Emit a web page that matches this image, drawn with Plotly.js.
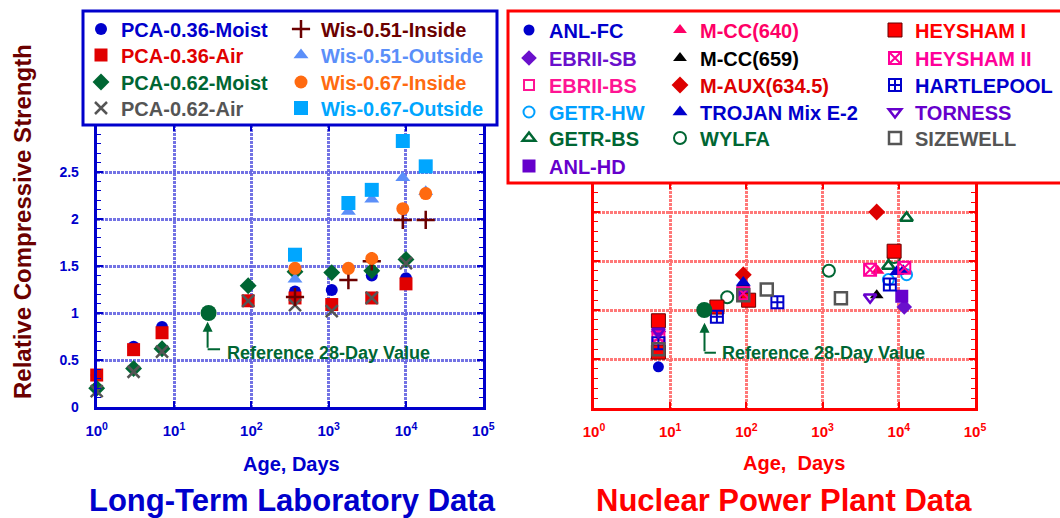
<!DOCTYPE html>
<html>
<head>
<meta charset="utf-8">
<script src="https://cdn.plot.ly/plotly-3.0.1.min.js"></script>
<style>html,body{margin:0;padding:0;background:#fff;}#chart{width:1060px;height:518px;}</style>
</head>
<body>
<div id="chart"></div>
<script>
// ---------------- DATA: Long-Term Laboratory Data ----------------
const pcaAges = [1, 3, 7, 91, 367, 1096, 3610, 10000];
const pca036Moist = [0.34, 0.64, 0.85, 1.13, 1.23, 1.245, 1.40, 1.37];
const pca036Air   = [0.34, 0.61, 0.79, 1.13, 1.16, 1.09, 1.16, 1.31];
const pca062Moist = [0.20, 0.41, 0.62, 1.29, 1.44, 1.43, 1.45, 1.57];
const pca062Air   = [0.17, 0.375, 0.59, 1.13, 1.085, 1.02, 1.16, 1.53];
const wisAges = [367, 1800, 3610, 9100, 18000];
const wis051Inside  = [1.17, 1.35, 1.55, 1.99, 1.99];
const wis051Outside = [1.36, 2.08, 2.21, 2.44, 2.29];
const wis067Inside  = [1.475, 1.475, 1.58, 2.11, 2.27];
const wis067Outside = [1.62, 2.17, 2.31, 2.83, 2.56];
const refAge = [28];
const refValue = [1.0];

// ---------------- DATA: Nuclear Power Plant Data ----------------
const anlFcAge = [7];                      const anlFcVal = [0.42];
const ebrSbAge = [7, 11800];               const ebrSbVal = [0.78, 1.03];
const ebrBsAge = [7, 91];                  const ebrBsVal = [0.64, 1.16];
const getrHwAge = [91, 7300, 12650];       const getrHwVal = [1.23, 1.31, 1.36];
const getrBsAge = [7300, 12650];           const getrBsVal = [1.45, 1.94];
const anlHdAge = [7, 91, 10940];           const anlHdVal = [0.82, 1.17, 1.14];
const mcc640Age = [5280];                  const mcc640Val = [1.40];
const mcc659Age = [91, 5130];              const mcc659Val = [1.27, 1.15];
const mauxAge = [91, 5130];                const mauxVal = [1.36, 2.0];
const trojanAge = [91, 9370, 11440];       const trojanVal = [1.28, 1.39, 1.40];
const wylfaAge = [56, 1210, 8680];         const wylfaVal = [1.13, 1.40, 1.54];
const hey1Age = [7, 7, 41, 107, 8680];     const hey1Val = [0.57, 0.89, 1.03, 1.10, 1.60];
const hey2Age = [7, 91, 4200, 11800];      const hey2Val = [0.72, 1.17, 1.41, 1.43];
const hartAge = [7, 41, 255, 7630];        const hartVal = [0.66, 0.93, 1.08, 1.26];
const tornAge = [7, 4200];                 const tornVal = [0.78, 1.13];
const sizeAge = [7, 91, 185, 1740];        const sizeVal = [0.60, 1.15, 1.21, 1.12];

const decadeTicks = [1, 10, 100, 1000, 10000, 100000];
const decadeLabels = ['10<sup>0</sup>', '10<sup>1</sup>', '10<sup>2</sup>', '10<sup>3</sup>', '10<sup>4</sup>', '10<sup>5</sup>'];
const leftYTicks = [0, 0.5, 1, 1.5, 2, 2.5];
const leftYLabels = ['0', '0.5', '1', '1.5', '2', '2.5'];

// ---------------- STYLE ----------------
const FONT = 'Liberation Sans, Arial, Helvetica, sans-serif';
const W = 1060, H = 518;
const px = v => v / W;
const py = v => 1 - v / H;

const traces = [];
const legends = {};
let legendCount = 0;
function addLegend(color, mx, my) {
  legendCount++;
  const id = legendCount === 1 ? 'legend' : 'legend' + legendCount;
  legends[id] = {
    x: px(mx - 20), y: py(my), xanchor: 'left', yanchor: 'middle',
    bgcolor: 'rgba(0,0,0,0)', borderwidth: 0,
    font: {family: FONT, size: 20, color: color, weight: 700},
    itemclick: false, itemdoubleclick: false
  };
  return id;
}
function series(name, x, y, xa, ya, marker, color, mx, my) {
  traces.push({
    type: 'scatter', mode: 'markers', name: name, x: x, y: y,
    xaxis: xa, yaxis: ya, marker: marker, cliponaxis: false,
    showlegend: true, legend: addLegend(color, mx, my), hoverinfo: 'skip'
  });
}

// Left plot series
series('PCA-0.36-Moist', pcaAges, pca036Moist, 'x', 'y', {symbol: 'circle', size: 12, color: '#0000cc'}, '#0000cc', 101, 29);
series('PCA-0.36-Air', pcaAges, pca036Air, 'x', 'y', {symbol: 'square', size: 13, color: '#e00000'}, '#e00000', 101, 55);
series('PCA-0.62-Moist', pcaAges, pca062Moist, 'x', 'y', {symbol: 'diamond', size: 13, color: '#006633'}, '#006633', 101, 82);
series('PCA-0.62-Air', pcaAges, pca062Air, 'x', 'y', {symbol: 'x-thin', size: 12, color: '#555555', line: {color: '#555555', width: 2.5}}, '#555555', 101, 108);
series('Wis-0.51-Inside', wisAges, wis051Inside, 'x', 'y', {symbol: 'cross-thin', size: 13, color: '#6b0000', line: {color: '#6b0000', width: 2.5}}, '#6b0000', 301, 29);
series('Wis-0.51-Outside', wisAges, wis051Outside, 'x', 'y', {symbol: 'triangle-up', size: 13, color: '#5b8ff9'}, '#5b8ff9', 301, 55);
series('Wis-0.67-Inside', wisAges, wis067Inside, 'x', 'y', {symbol: 'circle', size: 13, color: '#ff6a10'}, '#ff6a10', 301, 82);
series('Wis-0.67-Outside', wisAges, wis067Outside, 'x', 'y', {symbol: 'square', size: 14, color: '#00a6ff'}, '#00a6ff', 301, 108);

// Right plot series
series('ANL-FC', anlFcAge, anlFcVal, 'x2', 'y2', {symbol: 'circle', size: 11, color: '#0000cc'}, '#0000cc', 529, 30);
series('EBRII-SB', ebrSbAge, ebrSbVal, 'x2', 'y2', {symbol: 'diamond', size: 12, color: '#6a10cc'}, '#6a10cc', 529, 58);
series('EBRII-BS', ebrBsAge, ebrBsVal, 'x2', 'y2', {symbol: 'square-open', size: 10, color: '#ff1493', line: {width: 2}}, '#ff1493', 529, 85);
series('GETR-HW', getrHwAge, getrHwVal, 'x2', 'y2', {symbol: 'circle-open', size: 11, color: '#00a0ff', line: {width: 2}}, '#00a0ff', 529, 112);
series('GETR-BS', getrBsAge, getrBsVal, 'x2', 'y2', {symbol: 'triangle-up-open', size: 11, color: '#006633', line: {width: 2.5}}, '#006633', 529, 138);
series('ANL-HD', anlHdAge, anlHdVal, 'x2', 'y2', {symbol: 'square', size: 13, color: '#6600cc'}, '#6600cc', 529, 166);
series('M-CC(640)', mcc640Age, mcc640Val, 'x2', 'y2', {symbol: 'triangle-up', size: 12, color: '#ff0066'}, '#ff0066', 680, 30);
series('M-CC(659)', mcc659Age, mcc659Val, 'x2', 'y2', {symbol: 'triangle-up', size: 12, color: '#000000'}, '#000000', 680, 58);
series('M-AUX(634.5)', mauxAge, mauxVal, 'x2', 'y2', {symbol: 'diamond', size: 13, color: '#dd0000'}, '#dd0000', 680, 85);
series('TROJAN Mix E-2', trojanAge, trojanVal, 'x2', 'y2', {symbol: 'triangle-up', size: 13, color: '#0000cc'}, '#0000cc', 680, 112);
series('WYLFA', wylfaAge, wylfaVal, 'x2', 'y2', {symbol: 'circle-open', size: 12, color: '#006633', line: {width: 2}}, '#006633', 680, 138);
series('HEYSHAM I', hey1Age, hey1Val, 'x2', 'y2', {symbol: 'square', size: 14, color: '#ff0000', line: {color: '#660000', width: 1}}, '#ff0000', 895, 30);
series('HEYSHAM II', hey2Age, hey2Val, 'x2', 'y2', {symbol: 'square-x-open', size: 12, color: '#ff0099', line: {width: 2}}, '#ff0099', 895, 58);
series('HARTLEPOOL', hartAge, hartVal, 'x2', 'y2', {symbol: 'square-cross-open', size: 12, color: '#0000cc', line: {width: 2}}, '#0000cc', 895, 85);
series('TORNESS', tornAge, tornVal, 'x2', 'y2', {symbol: 'triangle-down-open', size: 11, color: '#6600cc', line: {width: 2.5}}, '#6600cc', 895, 112);
series('SIZEWELL', sizeAge, sizeVal, 'x2', 'y2', {symbol: 'square-open', size: 12, color: '#555555', line: {width: 2.5}}, '#555555', 895, 138);

// Reference 28-day points
traces.push({type: 'scatter', mode: 'markers', x: refAge, y: refValue, xaxis: 'x', yaxis: 'y', showlegend: false,
  marker: {symbol: 'circle', size: 16, color: '#006633'}, hoverinfo: 'skip'});
traces.push({type: 'scatter', mode: 'markers', x: refAge, y: refValue, xaxis: 'x2', yaxis: 'y2', showlegend: false,
  marker: {symbol: 'circle', size: 16, color: '#006633'}, hoverinfo: 'skip'});

function xAxis(domain, color, gridc, anchor) {
  return {
    type: 'log', domain: domain, range: [0, 5], anchor: anchor,
    tickmode: 'array', tickvals: decadeTicks, ticktext: decadeLabels,
    ticks: 'inside', ticklen: 6, tickwidth: 2, tickcolor: color,
    showline: true, linecolor: color, linewidth: 3, mirror: 'ticks',
    showgrid: true, gridcolor: gridc, gridwidth: 3, griddash: '3px,1px',
    zeroline: false, ticklabelstandoff: 8,
    tickfont: {family: FONT, size: 15, color: color, weight: 700}
  };
}
function yAxis(domain, range, color, gridc, anchor, labels) {
  return {
    domain: domain, range: range, anchor: anchor,
    tickmode: 'array', tickvals: leftYTicks, ticktext: leftYLabels,
    showticklabels: labels,
    ticks: 'inside', ticklen: 6, tickwidth: 2, tickcolor: color,
    minor: {tickmode: 'linear', tick0: 0, dtick: 0.1, ticks: 'inside', ticklen: 4, tickwidth: 1, tickcolor: color, showgrid: false},
    showline: true, linecolor: color, linewidth: 3, mirror: 'ticks',
    showgrid: true, gridcolor: gridc, gridwidth: 3, griddash: '3px,1px',
    zeroline: false, ticklabelstandoff: 12,
    tickfont: {family: FONT, size: 14, color: color, weight: 700}
  };
}

const L = Math.log10;
const green = '#006633';
const leftArrowX = 27.2;   // arrow position just left of the 28-day point
const rightArrowX = 28.2;
const layout = Object.assign({
  width: W, height: H, autosize: false,
  margin: {l: 0, r: 0, t: 0, b: 0, pad: 0},
  paper_bgcolor: '#ffffff', plot_bgcolor: '#ffffff',
  font: {family: FONT},
  xaxis: xAxis([px(96.7), px(483.3)], '#0000cc', 'rgba(100,100,225,0.9)', 'y'),
  yaxis: yAxis([1 - 407 / H, 1 - 125 / H], [0, 3], '#0000cc', 'rgba(100,100,225,0.9)', 'x', true),
  xaxis2: xAxis([px(594), px(975)], '#ff0000', 'rgba(255,105,105,0.9)', 'y2'),
  yaxis2: yAxis([1 - 408 / H, 1 - 183 / H], [0, 2.296], '#ff0000', 'rgba(255,105,105,0.9)', 'x2', false),
  shapes: [
    {type: 'rect', xref: 'paper', yref: 'paper', x0: px(83), x1: px(497), y0: py(125), y1: py(11),
      fillcolor: '#ffffff', line: {color: '#0000cc', width: 3}, layer: 'above'},
    {type: 'rect', xref: 'paper', yref: 'paper', x0: px(508), x1: px(1070), y0: py(183), y1: py(11),
      fillcolor: '#ffffff', line: {color: '#ff0000', width: 3}, layer: 'above'},
    {type: 'line', xref: 'x', yref: 'y', x0: leftArrowX, x1: 39.4, y0: 0.614, y1: 0.614,
      line: {color: green, width: 2}},
    {type: 'line', xref: 'x2', yref: 'y2', x0: rightArrowX, x1: 39.8, y0: 0.564, y1: 0.564,
      line: {color: green, width: 2}}
  ],
  annotations: [
    {xref: 'x', yref: 'y', x: L(leftArrowX), y: 0.907, ax: L(leftArrowX), ay: 0.614, axref: 'x', ayref: 'y',
      text: '', showarrow: true, arrowhead: 2, arrowsize: 1, arrowwidth: 2, arrowcolor: green, standoff: 0, startstandoff: 0},
    {xref: 'x', yref: 'y', x: 1.66, y: 0.574, xanchor: 'left', yanchor: 'middle', showarrow: false,
      text: 'Reference 28-Day Value', font: {family: FONT, size: 18, color: green, weight: 700}},
    {xref: 'x2', yref: 'y2', x: L(rightArrowX), y: 0.87, ax: L(rightArrowX), ay: 0.564, axref: 'x2', ayref: 'y2',
      text: '', showarrow: true, arrowhead: 2, arrowsize: 1, arrowwidth: 2, arrowcolor: green, standoff: 0, startstandoff: 0},
    {xref: 'x2', yref: 'y2', x: 1.654, y: 0.561, xanchor: 'left', yanchor: 'middle', showarrow: false,
      text: 'Reference 28-Day Value', font: {family: FONT, size: 18, color: green, weight: 700}},
    {xref: 'paper', yref: 'paper', x: px(291), y: py(464), showarrow: false, xanchor: 'center', yanchor: 'middle',
      text: 'Age, Days', font: {family: FONT, size: 20, color: '#0000cc', weight: 700}},
    {xref: 'paper', yref: 'paper', x: px(292), y: py(500), showarrow: false, xanchor: 'center', yanchor: 'middle',
      text: 'Long-Term Laboratory Data', font: {family: FONT, size: 31, color: '#0000cc', weight: 700}},
    {xref: 'paper', yref: 'paper', x: px(794), y: py(463), showarrow: false, xanchor: 'center', yanchor: 'middle',
      text: 'Age,\u00a0 Days', font: {family: FONT, size: 20, color: '#ff0000', weight: 700}},
    {xref: 'paper', yref: 'paper', x: px(784), y: py(500), showarrow: false, xanchor: 'center', yanchor: 'middle',
      text: 'Nuclear Power Plant Data', font: {family: FONT, size: 31, color: '#ff0000', weight: 700}},
    {xref: 'paper', yref: 'paper', x: px(22), y: py(222), showarrow: false, xanchor: 'center', yanchor: 'middle',
      textangle: -90, text: 'Relative Compressive Strength', font: {family: FONT, size: 24, color: '#6b0000', weight: 700}}
  ]
}, legends);

Plotly.newPlot('chart', traces, layout, {staticPlot: true, displayModeBar: false});
</script>
</body>
</html>
